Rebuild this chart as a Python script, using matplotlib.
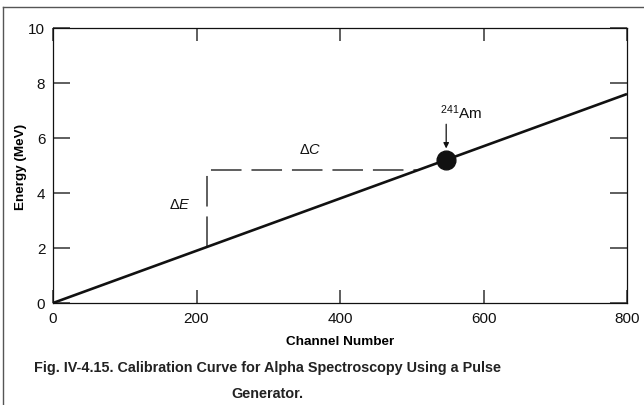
"""Calibration curve for alpha spectroscopy using a pulse generator."""

import matplotlib
matplotlib.use("Agg")
import matplotlib.pyplot as plt
from matplotlib.lines import Line2D

plt.rcParams["font.family"] = ["Liberation Sans", "DejaVu Sans"]
plt.rcParams["mathtext.fontset"] = "custom"
plt.rcParams["mathtext.rm"] = "Liberation Sans"
plt.rcParams["mathtext.it"] = "Liberation Sans:italic"

# calibration line, channel -> energy (MeV)
line_channel = [0, 800]
line_energy = [0.0, 7.6]

# 241Am reference peak
am_channel = 548
am_energy = 5.2

# delta-triangle (dashed)
tri_channel = [215, 215, 510]
tri_energy = [2.05, 4.85, 4.85]

x_ticks = [0, 200, 400, 600, 800]
y_ticks = [0, 2, 4, 6, 8, 10]

INK = "#111111"
GREY = "#333333"

fig = plt.figure(figsize=(6.44, 4.06), dpi=100)
ax = fig.add_axes([53 / 644, 1 - 304 / 406, 574 / 644, 275 / 406])

ax.plot(line_channel, line_energy, color=INK, lw=1.9, solid_capstyle="butt", zorder=3)
ax.plot(tri_channel, tri_energy, color=GREY, lw=1.1, linestyle=(0, (20, 6.5)), zorder=2)
ax.plot([am_channel], [am_energy], "o", color=INK, ms=13.5, zorder=4)

ax.annotate("", xy=(am_channel, am_energy + 0.42), xytext=(am_channel, am_energy + 1.3),
            arrowprops=dict(arrowstyle="-|>", color=INK, lw=0.9,
                            mutation_scale=8, shrinkA=0, shrinkB=0))
ax.text(am_channel - 8, am_energy + 1.4, r"$^{241}$Am", fontsize=11,
        ha="left", va="bottom", color=INK)
ax.text(177, 3.6, r"$\Delta E$", fontsize=10.5, ha="center", va="center", color=INK)
ax.text(358, 5.6, r"$\Delta C$", fontsize=10.5, ha="center", va="center", color=INK)

ax.set_xlim(0, 800)
ax.set_ylim(0, 10)
ax.set_xticks(x_ticks)
ax.set_yticks(y_ticks)
ax.tick_params(axis="both", direction="in", labelsize=11, colors=GREY, labelcolor=INK)
ax.tick_params(axis="x", length=9.3, width=1.1, top=True, pad=6)
ax.tick_params(axis="y", length=12.3, width=1.1, right=True, pad=5.5)
for spine in ax.spines.values():
    spine.set_linewidth(0.9)
    spine.set_color(INK)

ax.set_xlabel("Channel Number", fontsize=9.7, fontweight="bold", labelpad=7)
ax.set_ylabel("Energy (MeV)", fontsize=9.7, fontweight="bold", labelpad=1)

caption_font = dict(fontsize=10.4, fontweight="bold", ha="center", va="center",
                    color="#222222")
fig.text(267 / 644, 1 - 368 / 406,
         "Fig. IV-4.15. Calibration Curve for Alpha Spectroscopy Using a Pulse",
         **caption_font)
fig.text(267 / 644, 1 - 394 / 406, "Generator.", **caption_font)

# frame fragments along the left and top of the page
fig.add_artist(Line2D([2.5 / 644, 2.5 / 644], [0, 1 - 7.5 / 406],
                      transform=fig.transFigure, color="#555555", lw=1.0))
fig.add_artist(Line2D([2.5 / 644, 1], [1 - 7.5 / 406, 1 - 7.5 / 406],
                      transform=fig.transFigure, color="#555555", lw=1.0))

fig.savefig("out.png", dpi=100)
